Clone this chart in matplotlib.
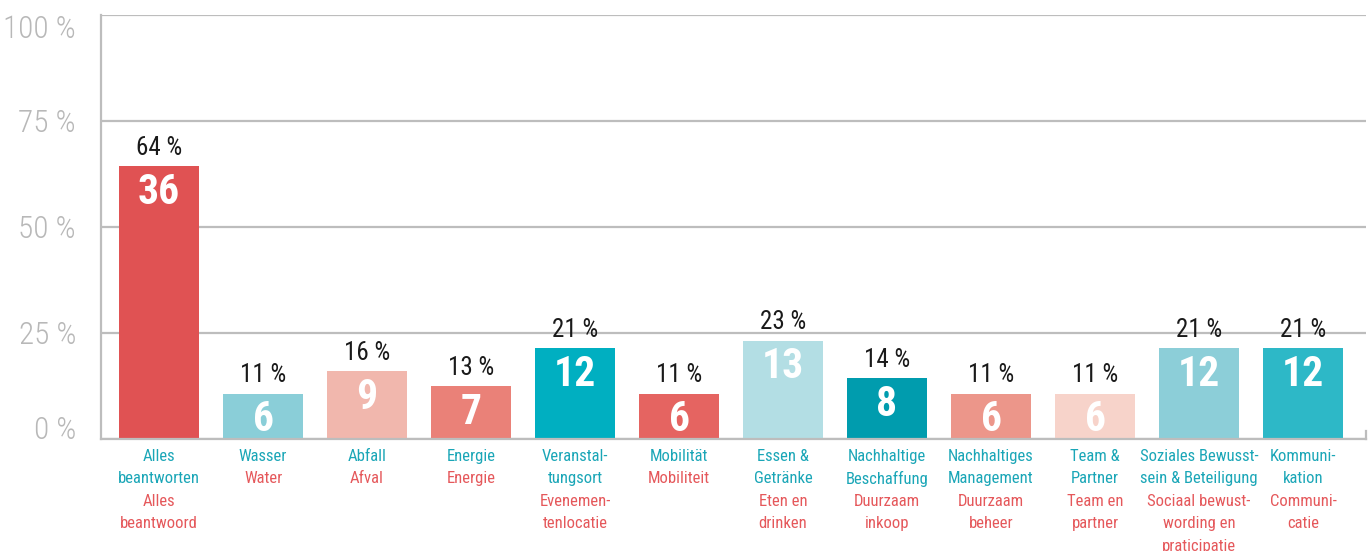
import matplotlib
matplotlib.use("Agg")
import matplotlib.pyplot as plt

# responses per topic (count of 56) and the printed percentages
counts = [36, 6, 9, 7, 12, 6, 13, 8, 6, 6, 12, 12]
pct_labels = ["64 %", "11 %", "16 %", "13 %", "21 %", "11 %",
              "23 %", "14 %", "11 %", "11 %", "21 %", "21 %"]
total = 56

labels_de = ["Alles\nbeantworten", "Wasser", "Abfall", "Energie",
             "Veranstal-\ntungsort", "Mobilität", "Essen &\nGetränke",
             "Nachhaltige\nBeschaffung", "Nachhaltiges\nManagement",
             "Team &\nPartner", "Soziales Bewusst-\nsein & Beteiligung",
             "Kommuni-\nkation"]
labels_nl = ["Alles\nbeantwoord", "Water", "Afval", "Energie",
             "Evenemen-\ntenlocatie", "Mobiliteit", "Eten en\ndrinken",
             "Duurzaam\ninkoop", "Duurzaam\nbeheer", "Team en\npartner",
             "Sociaal bewust-\nwording en\npraticipatie", "Communi-\ncatie"]

colors = ["#E05253", "#8ACED8", "#F1B7AD", "#EA8178", "#00AFC1", "#E56461",
          "#B3DEE4", "#009CAE", "#EC968A", "#F7D3CA", "#8CCED8", "#2DB8C7"]

yticks = [0, 25, 50, 75, 100]

FONT = ["Roboto Condensed", "DejaVu Sans Condensed", "DejaVu Sans"]
GRID = "#BDBDBD"
TEAL = "#1AA6B7"
RED = "#E5585B"

values = [c / total * 100 for c in counts]
x = list(range(len(counts)))

fig = plt.figure(figsize=(13.71, 5.51), dpi=100)
ax = fig.add_axes([0.0737, 0.2033, 0.9227, 0.7695])

ax.bar(x, values, width=0.77, color=colors, zorder=2)

ax.set_xlim(-0.558, 11.606)
ax.set_ylim(0, 100)
ax.set_yticks(yticks)
ax.set_yticklabels([f"{t} %" for t in yticks], family=FONT, fontsize=22.5,
                   color="#B8B8B8", fontstretch="condensed", fontweight="light")
ax.tick_params(axis="y", length=0, pad=18)
tl = ax.get_yticklabels()
tl[0].set_va("baseline")
tl[-1].set_va("top")
ax.set_xticks([])
ax.grid(axis="y", color=GRID, linewidth=1.6, zorder=1)

for side in ["left", "bottom"]:
    ax.spines[side].set_color(GRID)
    ax.spines[side].set_linewidth(1.6)
ax.spines["top"].set_visible(False)
ax.spines["right"].set_color(GRID)
ax.spines["right"].set_linewidth(1.6)
ax.spines["right"].set_bounds(0, 2)

for i, v in enumerate(values):
    ax.annotate(pct_labels[i], (i, v), xytext=(0, 13), textcoords="offset points",
                ha="center", va="center", family=FONT, fontsize=18,
                fontstretch="condensed", color="#1A1A1A")
    ax.annotate(str(counts[i]), (i, v), xytext=(0, -19), textcoords="offset points",
                ha="center", va="center", family=FONT, fontsize=30,
                fontweight="bold", color="white", zorder=3)

    lines = [(t, TEAL) for t in labels_de[i].split("\n")] + \
            [(t, RED) for t in labels_nl[i].split("\n")]
    for k, (txt, col) in enumerate(lines):
        ax.annotate(txt, (i, 0), xytext=(0, -(17.5 + 22.5 * k) * 0.72),
                    textcoords="offset points", ha="center", va="center",
                    family=FONT, fontsize=12, fontstretch="condensed",
                    color=col, annotation_clip=False)

fig.savefig("out.png", dpi=100)
